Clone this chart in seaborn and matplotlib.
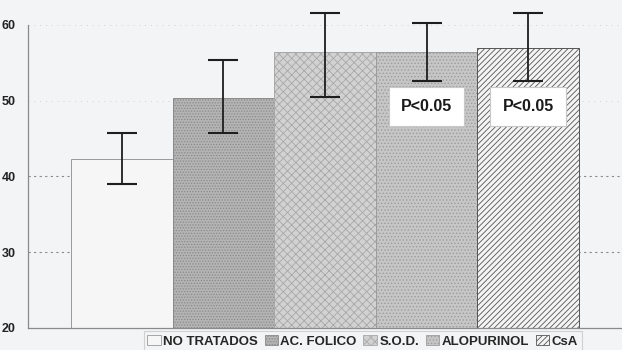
import matplotlib
matplotlib.use("Agg")
import matplotlib.pyplot as plt
import seaborn as sns
import pandas as pd
from matplotlib.patches import Patch

categories = ["NO TRATADOS", "AC. FOLICO", "S.O.D.", "ALOPURINOL", "CsA"]
means = [42.3, 50.3, 56.5, 56.5, 57.0]
err_low = [3.3, 4.5, 6.0, 3.9, 4.4]
err_high = [3.5, 5.1, 5.1, 3.8, 4.6]
sig_labels = ["", "", "", "P<0.05", "P<0.05"]
yticks = [20, 30, 40, 50, 60]

bg = "#f3f4f5"
faces = ["#f6f6f6", "#b4b4b4", "#d2d2d2", "#c6c6c6", "#f4f4f4"]
hatches = [None, "......", "xxxx", ".....", "//////"]
hcolors = ["#9a9a9a", "#8a8a8a", "#a8a8a8", "#9c9c9c", "#555555"]

sns.set_style("white")
plt.rcParams["font.family"] = ["Liberation Sans", "DejaVu Sans"]
plt.rcParams["hatch.linewidth"] = 0.6

fig = plt.figure(figsize=(6.22, 3.5), dpi=100, facecolor=bg)
ax = fig.add_axes([28/622, 22/350, 594/622, 328/350])
ax.set_facecolor(bg)

df = pd.DataFrame({"cat": categories, "val": means})
sns.barplot(data=df, x="cat", y="val", hue="cat", palette=faces, width=1.0,
            dodge=False, legend=False, ax=ax, zorder=2, errorbar=None)

for p, h, ec in zip(ax.patches, hatches, hcolors):
    p.set_edgecolor(ec)
    p.set_linewidth(0.7)
    if h:
        p.set_hatch(h)

xs = list(range(len(categories)))
ax.errorbar(xs, means, yerr=[err_low, err_high], fmt="none", ecolor="#1e1e1e",
            elinewidth=1.3, capsize=11, capthick=1.5, zorder=4, clip_on=False)

for x, lab in zip(xs, sig_labels):
    if lab:
        ax.text(x, 49.3, lab, ha="center", va="center", fontsize=11.5,
                fontweight="bold", color="#1a1a1a", zorder=5,
                bbox=dict(boxstyle="square,pad=0.75", fc="white", ec="#c8c8c8", lw=0.8))

for t in [30, 40]:
    ax.axhline(t, color="#8a8a8a", lw=0.8, ls=(0, (2, 3)), zorder=1)
for t in [50, 60]:
    ax.axhline(t, color="#d0d0d0", lw=0.7, ls=(0, (1, 5)), zorder=1)

ax.set_ylim(20, 63.3)
ax.set_xlim(-0.926, 4.926)
ax.set_yticks(yticks)
ax.set_yticklabels([str(t) for t in yticks], fontsize=9, fontweight="bold", color="#222222")
ax.tick_params(axis="y", length=0, pad=9)
ax.set_xticks([])
ax.set_xlabel("")
ax.set_ylabel("")
for s in ["top", "right"]:
    ax.spines[s].set_visible(False)
ax.spines["left"].set_bounds(20, 60)
ax.spines["left"].set_color("#8a8a8a")
ax.spines["left"].set_linewidth(0.9)
ax.spines["bottom"].set_color("#8a8a8a")
ax.spines["bottom"].set_linewidth(0.9)

handles = [Patch(facecolor=f, edgecolor=ec, hatch=h, linewidth=0.6)
           for f, h, ec in zip(faces, hatches, hcolors)]
leg = fig.legend(handles, categories, loc="upper center", bbox_to_anchor=(0.583, 0.072),
                 ncol=5, frameon=True, handlelength=1.0, handleheight=0.8,
                 handletextpad=0.2, columnspacing=0.5, borderpad=0.3, fancybox=False,
                 prop={"weight": "bold", "size": 9.5})
leg.get_frame().set_edgecolor("#c8c8c8")
leg.get_frame().set_facecolor(bg)
leg.get_frame().set_linewidth(0.8)

fig.savefig("out.png", dpi=100, facecolor=bg)
